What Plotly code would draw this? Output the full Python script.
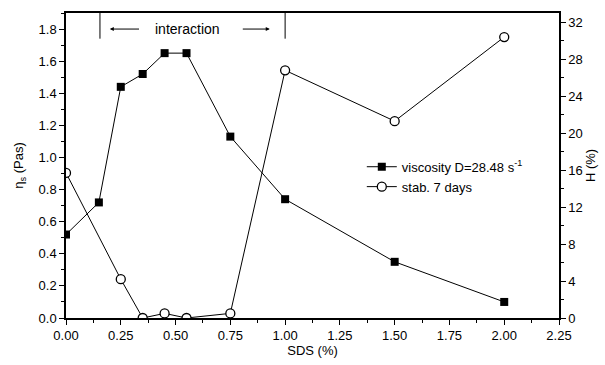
import plotly.graph_objects as go

sds_visc = [0.0, 0.15, 0.25, 0.35, 0.45, 0.55, 0.75, 1.0, 1.5, 2.0]
viscosity = [0.52, 0.72, 1.44, 1.52, 1.65, 1.65, 1.13, 0.74, 0.35, 0.10]

sds_stab = [0.0, 0.25, 0.35, 0.45, 0.55, 0.75, 1.0, 1.5, 2.0]
stab_7days = [15.7, 4.2, 0.0, 0.5, 0.0, 0.5, 26.8, 21.3, 30.4]

x_ticks = [0, 0.25, 0.5, 0.75, 1.0, 1.25, 1.5, 1.75, 2.0, 2.25]
x_ticklabels = ["0.00", "0.25", "0.50", "0.75", "1.00", "1.25", "1.50", "1.75", "2.00", "2.25"]

FONT = "Liberation Sans, Arial, sans-serif"
FS = 13

fig = go.Figure()
fig.add_trace(go.Scatter(
    x=sds_visc, y=viscosity, mode="lines+markers",
    name="viscosity D=28.48 s<sup>-1</sup>",
    line=dict(color="black", width=1),
    marker=dict(symbol="square", size=8, color="black"),
))
fig.add_trace(go.Scatter(
    x=sds_stab, y=stab_7days, mode="lines+markers", yaxis="y2",
    name="stab. 7 days",
    line=dict(color="black", width=1),
    marker=dict(symbol="circle", size=9, color="white", line=dict(color="black", width=1.3)),
))

# interaction annotation
for xv in [0.155, 1.0]:
    fig.add_shape(type="line", xref="x", yref="y", x0=xv, x1=xv, y0=1.74, y1=1.9,
                  line=dict(color="black", width=1))
fig.add_annotation(x=0.555, y=1.8, xref="x", yref="y", text="interaction", showarrow=False,
                   font=dict(size=14, family=FONT, color="black"))
fig.add_annotation(x=0.2, y=1.8, ax=0.34, ay=1.8, xref="x", yref="y", axref="x", ayref="y",
                   text="", showarrow=True, arrowhead=2, arrowsize=0.8, arrowwidth=1, arrowcolor="black")
fig.add_annotation(x=0.93, y=1.8, ax=0.8, ay=1.8, xref="x", yref="y", axref="x", ayref="y",
                   text="", showarrow=True, arrowhead=2, arrowsize=0.8, arrowwidth=1, arrowcolor="black")

axis_common = dict(showline=True, linecolor="black", linewidth=1.5, ticks="outside",
                   ticklen=5, tickwidth=1, tickcolor="black", showgrid=False, zeroline=False,
                   automargin=False,
                   tickfont=dict(size=FS, family=FONT, color="black"))

fig.update_layout(
    width=605, height=365,
    margin=dict(l=66, r=46, t=13, b=47, autoexpand=False),
    paper_bgcolor="white", plot_bgcolor="white",
    font=dict(family=FONT, size=FS, color="black"),
    showlegend=True,
    legend=dict(x=0.6, y=0.545, xanchor="left", yanchor="top", bgcolor="rgba(0,0,0,0)",
                font=dict(size=FS, family=FONT), tracegroupgap=0, itemwidth=30),
    xaxis=dict(range=[0, 2.25], tickvals=x_ticks, ticktext=x_ticklabels, mirror=True,
               title=dict(text="SDS (%)", font=dict(size=FS, family=FONT), standoff=4),
               minor=dict(ticks="outside", ticklen=3, dtick=0.125, tickcolor="black"),
               **axis_common),
    yaxis=dict(range=[0, 1.9], dtick=0.2, tickformat=".1f",
               title=dict(text="η<sub>s</sub> (Pas)", font=dict(size=FS, family=FONT), standoff=12),
               minor=dict(ticks="outside", ticklen=3, dtick=0.1, tickcolor="black"),
               **axis_common),
    yaxis2=dict(range=[0, 33], dtick=4, overlaying="y", side="right", anchor="x",
                title=dict(text="H (%)", font=dict(size=FS, family=FONT), standoff=2),
                minor=dict(ticks="outside", ticklen=3, dtick=2, tickcolor="black"),
                **axis_common),
)

fig.write_html("out.html", config={"displayModeBar": False},
               post_script="document.body.style.margin='0';")
